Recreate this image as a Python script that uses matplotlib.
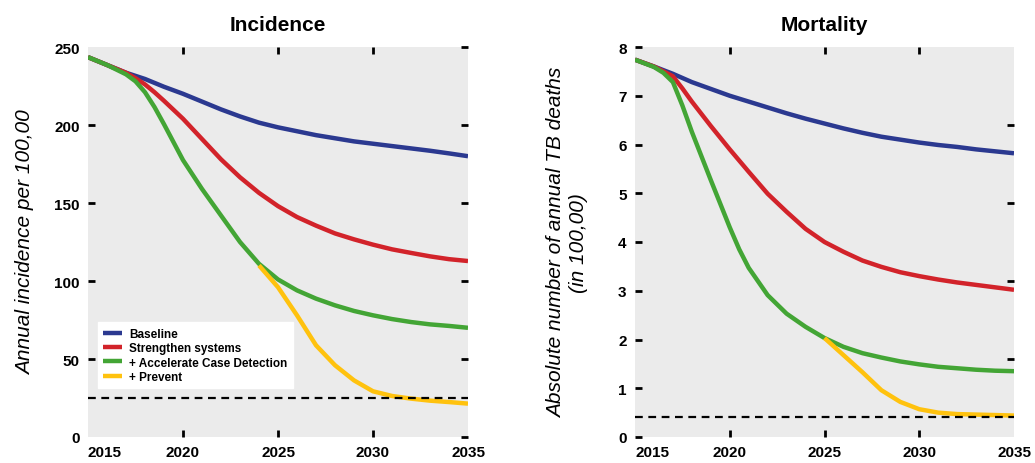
import matplotlib.pyplot as plt

plt.rcParams['font.family'] = ['Liberation Sans', 'DejaVu Sans']

years = list(range(2015, 2036))

# Incidence (per 100,000)
inc_baseline = [243.5, 238.5, 233.5, 229.5, 224.5, 220, 215, 210, 205.5, 201.5, 198.5,
                196, 193.5, 191.5, 189.5, 188, 186.5, 185, 183.5, 181.8, 180]
str_years = [2015, 2016, 2017, 2017.5, 2018, 2018.5, 2019, 2020, 2021, 2022, 2023, 2024, 2025,
             2026, 2027, 2028, 2029, 2030, 2031, 2032, 2033, 2034, 2035]
inc_strengthen = [243.5, 238.5, 233.5, 230, 226, 221, 215.5, 204, 191, 178, 166.5, 156.5, 148,
                  141, 135.5, 130.5, 126.7, 123.3, 120.3, 118, 115.8, 114, 112.8]
acd_years = [2015, 2016, 2017, 2017.5, 2018, 2018.5, 2019, 2019.5, 2020, 2021, 2022, 2023,
             2024, 2025, 2026, 2027, 2028, 2029, 2030, 2031, 2032, 2033, 2034, 2035]
inc_acd = [243.5, 238.5, 232.5, 228, 221, 211.5, 200.5, 189, 177.5, 159, 142, 125,
           111, 101, 94, 88.7, 84.4, 80.8, 78, 75.6, 73.7, 72.2, 71.2, 70]
prev_years = [2024, 2025, 2026, 2027, 2028, 2029, 2030, 2031, 2032, 2033, 2034, 2035]
inc_prevent = [110, 96, 78, 58.8, 46, 36.3, 29.3, 26.3, 24.6, 23.3, 22.4, 21.4]
inc_target = 25

# Mortality (in 100,000)
mort_baseline = [7.74, 7.6, 7.45, 7.28, 7.14, 7.0, 6.88, 6.76, 6.64, 6.53, 6.43,
                 6.33, 6.24, 6.16, 6.1, 6.04, 5.99, 5.95, 5.9, 5.86, 5.82]
mort_str_years = [2015, 2016, 2017, 2017.5, 2018, 2019, 2020, 2021, 2022, 2023, 2024, 2025,
                  2026, 2027, 2028, 2029, 2030, 2031, 2032, 2033, 2034, 2035]
mort_strengthen = [7.74, 7.6, 7.4, 7.15, 6.88, 6.38, 5.9, 5.44, 4.99, 4.62, 4.27, 4.0,
                   3.8, 3.62, 3.49, 3.38, 3.3, 3.23, 3.17, 3.12, 3.07, 3.02]
mort_acd_years = [2015, 2016, 2016.5, 2017, 2017.5, 2018, 2019, 2020, 2020.5, 2021, 2022,
                  2023, 2024, 2025, 2026, 2027, 2028, 2029, 2030, 2031, 2032, 2033, 2034, 2035]
mort_acd = [7.74, 7.59, 7.47, 7.28, 6.8, 6.26, 5.27, 4.3, 3.85, 3.47, 2.91,
            2.53, 2.26, 2.03, 1.85, 1.72, 1.63, 1.55, 1.49, 1.44, 1.41, 1.38, 1.36, 1.35]
mort_prev_years = list(range(2025, 2036))
mort_prevent = [2.03, 1.68, 1.33, 0.96, 0.72, 0.57, 0.5, 0.47, 0.46, 0.45, 0.44]
mort_target = 0.41

labels = ['Baseline', 'Strengthen systems', '+ Accelerate Case Detection', '+ Prevent']
colors = ['#2B3990', '#D2232A', '#43A535', '#FFC20E']

fig = plt.figure(figsize=(10.35, 4.64), dpi=100)
W, H = 1035, 464
ax1 = fig.add_axes([88 / W, 1 - 438 / H, 380 / W, 390 / H])
ax2 = fig.add_axes([635 / W, 1 - 438 / H, 379 / W, 390 / H])


def style(ax, ylim, yticks):
    ax.set_facecolor('#EBEBEB')
    for s in ax.spines.values():
        s.set_visible(False)
    ax.set_xlim(2015, 2035)
    ax.set_ylim(*ylim)
    ax.set_xticks([2015, 2020, 2025, 2030, 2035])
    ax.set_yticks(yticks)
    ax.tick_params(direction='in', length=5, width=2, top=True,
                   labelsize=11, pad=6)
    for lab in ax.get_xticklabels() + ax.get_yticklabels():
        lab.set_fontweight('bold')
    ax.get_xticklabels()[0].set_ha('left')
    for t in (ax.xaxis.get_major_ticks()[0], ax.xaxis.get_major_ticks()[-1],
              ax.yaxis.get_major_ticks()[0], ax.yaxis.get_major_ticks()[-1]):
        t.tick1line.set_visible(False)
        t.tick2line.set_visible(False)


lw = 3.2
kw = dict(lw=lw, solid_capstyle='butt', solid_joinstyle='round')
# Incidence
ax1.plot(years, inc_baseline, color=colors[0], label=labels[0], **kw)
ax1.plot(str_years, inc_strengthen, color=colors[1], label=labels[1], **kw)
ax1.plot(acd_years, inc_acd, color=colors[2], label=labels[2], **kw)
ax1.plot(prev_years, inc_prevent, color=colors[3], label=labels[3], **kw)
ax1.axhline(inc_target, color='black', lw=1.6, ls=(0, (3.5, 2.5)))
style(ax1, (0, 250), [0, 50, 100, 150, 200, 250])
ax1.tick_params(axis='y', right=True)
ax1.set_title('Incidence', fontsize=15, fontweight='bold', pad=12)
ax1.set_ylabel('Annual incidence per 100,00', fontsize=15, style='italic', labelpad=14)
leg = ax1.legend(loc='lower left', bbox_to_anchor=(0.01, 0.11),
                 prop={'weight': 'bold', 'size': 8.5}, frameon=True, fancybox=False,
                 edgecolor='white', framealpha=1, handlelength=1.6, handletextpad=0.6,
                 labelspacing=0.2, borderpad=0.45)

# Mortality
ax2.plot(years, mort_baseline, color=colors[0], **kw)
ax2.plot(mort_str_years, mort_strengthen, color=colors[1], **kw)
ax2.plot(mort_acd_years, mort_acd, color=colors[2], **kw)
ax2.plot(mort_prev_years, mort_prevent, color=colors[3], **kw)
ax2.axhline(mort_target, color='black', lw=1.6, ls=(0, (3.5, 2.5)))
style(ax2, (0, 8), [0, 1, 2, 3, 4, 5, 6, 7, 8])
ax2.set_title('Mortality', fontsize=15, fontweight='bold', pad=12)
ax2.set_ylabel('Absolute number of annual TB deaths\n(in 100,00)', fontsize=15,
               style='italic', labelpad=22)
twin = ax2.twinx()
twin.set_ylim(0, 250)
twin.set_yticks([50, 100, 150, 200])
twin.tick_params(direction='in', length=5, width=2, labelright=False)
for s in twin.spines.values():
    s.set_visible(False)

fig.savefig('out.png', dpi=100)
